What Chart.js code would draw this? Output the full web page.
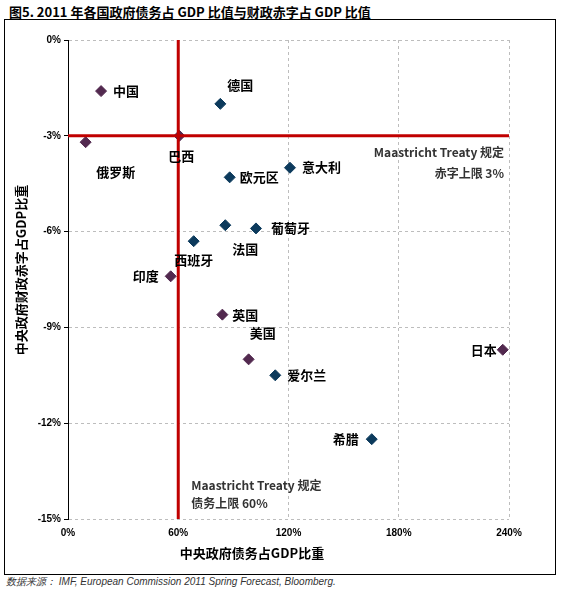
<!DOCTYPE html>
<html>
<head>
<meta charset="utf-8">
<script src="https://cdn.jsdelivr.net/npm/chart.js@4/dist/chart.umd.min.js"></script>
<style>
  body { margin: 0; background: #fff; width: 576px; height: 604px; position: relative; overflow: hidden; }
  #title { position: absolute; left: 9px; top: 2px; font: bold 13px "Noto Sans CJK SC", sans-serif; color: #000; white-space: nowrap; }
  #frame { position: absolute; left: 4px; top: 19px; width: 550px; height: 554px; border: 1px solid #000; }
  #source { position: absolute; left: 6px; top: 575px; font: italic 10px "Liberation Sans", sans-serif; color: #333; white-space: nowrap; }
</style>
</head>
<body>
<div id="title">图5. 2011 年各国政府债务占 GDP 比值与财政赤字占 GDP 比值</div>
<div id="frame"><canvas id="grafico"></canvas></div>
<div id="source">数据来源： IMF, European Commission 2011 Spring Forecast, Bloomberg.</div>
<script>
// Datos: países, deuda/PIB (%), déficit/PIB (%)
const paises = ["中国", "德国", "俄罗斯", "巴西", "意大利", "欧元区", "法国", "葡萄牙", "西班牙", "印度", "英国", "美国", "爱尔兰", "日本", "希腊"];
const deudaPib = [18.0, 82.9, 9.6, 60.6, 120.8, 88.0, 85.6, 102.3, 68.4, 55.9, 84.0, 98.3, 112.8, 236.6, 165.3];
const deficitPib = [-1.6, -2.0, -3.2, -3.0, -4.0, -4.3, -5.8, -5.9, -6.3, -7.4, -8.6, -10.0, -10.5, -9.7, -12.5];
const zonaEuro = [false, true, false, false, true, true, true, true, true, false, false, false, true, false, true];

const ejeX = [0, 60, 120, 180, 240];
const ejeY = [0, -3, -6, -9, -12, -15];
const limiteDeuda = 60;
const limiteDeficit = -3;

// Posición de cada etiqueta respecto a su punto (px)
const etiquetas = {
  "中国": [12, 0, "left"], "德国": [20, -19, "center"], "俄罗斯": [30, 30, "center"],
  "巴西": [2, 20, "center"], "意大利": [12, -1, "left"], "欧元区": [10, 0, "left"],
  "法国": [20, 24, "center"], "葡萄牙": [15, 0, "left"], "西班牙": [0, 19, "center"],
  "印度": [-12, 0, "right"], "英国": [10, 0, "left"], "美国": [14, -26, "center"],
  "爱尔兰": [12, 0, "left"], "日本": [-6, 0, "right"], "希腊": [-13, 0, "right"],
};

const puntos = (euro) => paises
  .map((p, i) => ({ x: deudaPib[i], y: deficitPib[i], nombre: p, euro: zonaEuro[i] }))
  .filter((d) => d.euro === euro);

const rojo = "#C00000";

const textos = {
  id: "textos",
  afterDatasetsDraw(chart) {
    const { ctx, scales: { x, y }, chartArea } = chart;
    ctx.save();
    ctx.fillStyle = "#000";
    ctx.font = 'bold 13px "Noto Sans CJK SC", sans-serif';
    ctx.textBaseline = "middle";
    paises.forEach((p, i) => {
      const [dx, dy, al] = etiquetas[p];
      ctx.textAlign = al;
      ctx.fillText(p, x.getPixelForValue(deudaPib[i]) + dx, y.getPixelForValue(deficitPib[i]) + dy);
    });
    // Notas del Tratado de Maastricht
    ctx.fillStyle = "#333";
    ctx.font = 'bold 12px "Liberation Sans Narrow", "Noto Sans CJK SC", sans-serif';
    ctx.textAlign = "right";
    const xr = x.getPixelForValue(240) - 5;
    const yd = y.getPixelForValue(limiteDeficit);
    ctx.fillText("Maastricht Treaty 规定", xr, yd + 17);
    ctx.fillText("赤字上限 3%", xr, yd + 38);
    ctx.textAlign = "left";
    const xl = x.getPixelForValue(limiteDeuda) + 13;
    const yb = y.getPixelForValue(-15);
    ctx.fillText("Maastricht Treaty 规定", xl, yb - 34);
    ctx.fillText("债务上限 60%", xl, yb - 16);
    // Títulos de ejes
    ctx.fillStyle = "#000";
    ctx.font = 'bold 13px "Noto Sans CJK SC", sans-serif';
    ctx.textAlign = "center";
    ctx.fillText("中央政府债务占GDP比重", chartArea.left + 184, chartArea.bottom + 34);
    ctx.translate(16, chartArea.top + 230);
    ctx.rotate(-Math.PI / 2);
    ctx.fillText("中央政府财政赤字占GDP比重", 0, 0);
    ctx.restore();
  },
};

const lienzo = document.getElementById("grafico").getContext("2d");
new Chart(lienzo, {
  type: "scatter",
  data: {
    datasets: [
      {
        label: "limite deuda",
        data: [{ x: limiteDeuda, y: 0 }, { x: limiteDeuda, y: -15 }],
        showLine: true,
        borderColor: rojo,
        borderWidth: 3,
        pointRadius: 0,
        order: 0,
      },
      {
        label: "limite deficit",
        data: [{ x: 0, y: limiteDeficit }, { x: 240, y: limiteDeficit }],
        showLine: true,
        borderColor: rojo,
        borderWidth: 3,
        pointRadius: 0,
        order: 0,
      },
      {
        label: "otros",
        data: puntos(false),
        pointStyle: "rectRot",
        pointRadius: 5.5,
        backgroundColor: "#52294f",
        borderColor: "#52294f",
        order: 1,
      },
      {
        label: "zona euro",
        data: puntos(true),
        pointStyle: "rectRot",
        pointRadius: 5.5,
        backgroundColor: "#0c3a5c",
        borderColor: "#0c3a5c",
        order: 1,
      },
    ],
  },
  options: {
    responsive: true,
    maintainAspectRatio: false,
    animation: false,
    layout: { padding: { top: 20, right: 46, left: 0, bottom: 0 } },
    plugins: { legend: { display: false }, tooltip: { enabled: false } },
    scales: {
      x: {
        type: "linear",
        min: 0,
        max: 240,
        afterBuildTicks: (s) => { s.ticks = ejeX.map((v) => ({ value: v })); },
        afterFit: (s) => { s.height = 55; },
        border: { display: false, dash: [3, 3] },
        grid: { color: "#bdbdbd", drawTicks: false },
        ticks: {
          padding: 8,
          color: "#000",
          font: { family: "Liberation Sans", size: 10, weight: "bold" },
          callback: (v) => v + "%",
        },
      },
      y: {
        type: "linear",
        min: -15,
        max: 0,
        afterBuildTicks: (s) => { s.ticks = ejeY.map((v) => ({ value: v })); },
        afterFit: (s) => { s.width = 63; },
        border: { display: true, color: "#000", width: 1, dash: [3, 3] },
        grid: { color: "#bdbdbd", tickLength: 4, tickColor: "#000", tickBorderDash: [] },
        ticks: {
          padding: 3,
          color: "#000",
          font: { family: "Liberation Sans", size: 10, weight: "bold" },
          callback: (v) => v + "%",
        },
      },
    },
  },
  plugins: [textos],
});
</script>
</body>
</html>
